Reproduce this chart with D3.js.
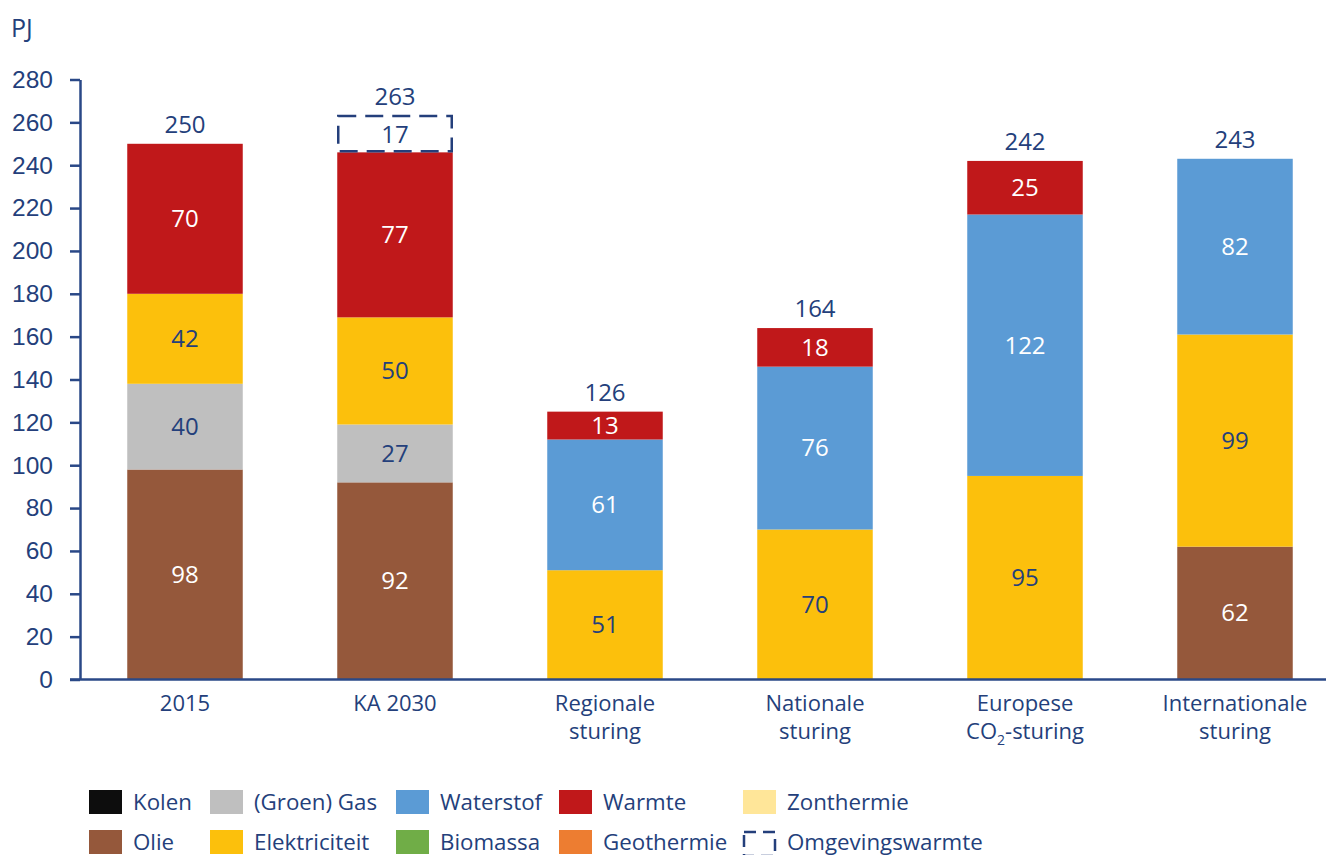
<!DOCTYPE html>
<html>
<head>
<meta charset="utf-8">
<script src="https://cdn.jsdelivr.net/npm/d3@7"></script>
<style>
  html, body { margin: 0; padding: 0; background: #fff; }
  svg { display: block; font-family: "Open Sans", "Noto Sans", sans-serif; }
</style>
</head>
<body>
<svg id="chart" width="1326" height="855"></svg>
<script>
// Final energy demand per scenario (PJ)
const categories = ["2015", "KA 2030", "Regionale sturing", "Nationale sturing", "Europese CO2-sturing", "Internationale sturing"];
const categoryLines = [["2015"], ["KA 2030"], ["Regionale", "sturing"], ["Nationale", "sturing"], ["Europese", "CO2-sturing"], ["Internationale", "sturing"]];

const kolen           = [0, 0, 0, 0, 0, 0];
const olie            = [98, 92, 0, 0, 0, 62];
const groenGas        = [40, 27, 0, 0, 0, 0];
const elektriciteit   = [42, 50, 51, 70, 95, 99];
const biomassa        = [0, 0, 0, 0, 0, 0];
const waterstof       = [0, 0, 61, 76, 122, 82];
const geothermie      = [0, 0, 0, 0, 0, 0];
const warmte          = [70, 77, 13, 18, 25, 0];
const zonthermie      = [0, 0, 0, 0, 0, 0];
const omgevingswarmte = [0, 17, 0, 0, 0, 0];
const totals          = [250, 263, 126, 164, 242, 243];

const yTicks = [0, 20, 40, 60, 80, 100, 120, 140, 160, 180, 200, 220, 240, 260, 280];

// stacking order, bottom to top
const series = [
  { name: "Kolen", values: kolen, color: "#0d0d0d", text: "#ffffff" },
  { name: "Olie", values: olie, color: "#95583b", text: "#ffffff" },
  { name: "(Groen) Gas", values: groenGas, color: "#bfbfbf", text: "#243f7b" },
  { name: "Elektriciteit", values: elektriciteit, color: "#fcc00c", text: "#243f7b" },
  { name: "Biomassa", values: biomassa, color: "#70ad47", text: "#ffffff" },
  { name: "Waterstof", values: waterstof, color: "#5b9bd5", text: "#ffffff" },
  { name: "Geothermie", values: geothermie, color: "#ed7d31", text: "#ffffff" },
  { name: "Warmte", values: warmte, color: "#c0181a", text: "#ffffff" },
  { name: "Zonthermie", values: zonthermie, color: "#ffe699", text: "#243f7b" },
  { name: "Omgevingswarmte", values: omgevingswarmte, color: "#ffffff", text: "#243f7b", dashed: true }
];

const navy = "#243f7b";
const axisColor = "#2a4887";
const svg = d3.select("#chart");

const x = d3.scaleBand().domain(categories).range([80, 1340]).paddingInner(0.45).paddingOuter(0.225);
const y = d3.scaleLinear().domain([0, 280]).range([679.5, 79.5]);

const rows = categories.map((c, i) => {
  const r = { category: c };
  series.forEach(s => r[s.name] = s.values[i]);
  return r;
});
const stack = d3.stack().keys(series.map(s => s.name))(rows);

// bars
stack.forEach((layer, k) => {
  const s = series[k];
  const g = svg.append("g");
  layer.forEach((d, i) => {
    const v = d[1] - d[0];
    if (v <= 0) return;
    const cx = x(categories[i]);
    if (s.dashed) {
      g.append("rect")
        .attr("x", cx + 1).attr("y", y(d[1]))
        .attr("width", x.bandwidth() - 2).attr("height", y(d[0]) - y(d[1]) - 1)
        .attr("fill", "#fff").attr("stroke", navy).attr("stroke-width", 2.5)
        .attr("stroke-dasharray", "18,9");
    } else {
      g.append("rect")
        .attr("x", cx).attr("y", y(d[1]))
        .attr("width", x.bandwidth()).attr("height", y(d[0]) - y(d[1]))
        .attr("fill", s.color);
    }
    g.append("text")
      .attr("x", cx + x.bandwidth() / 2)
      .attr("y", (y(d[0]) + y(d[1])) / 2)
      .attr("dy", "0.35em")
      .attr("text-anchor", "middle")
      .attr("font-size", 24)
      .attr("fill", s.text)
      .text(v);
  });
});

// totals above the bars
const tops = stack[stack.length - 1];
categories.forEach((c, i) => {
  svg.append("text")
    .attr("x", x(c) + x.bandwidth() / 2)
    .attr("y", y(tops[i][1]) - 19)
    .attr("dy", "0.35em")
    .attr("text-anchor", "middle")
    .attr("font-size", 24)
    .attr("fill", navy)
    .text(totals[i]);
});

// y axis
const yAxis = svg.append("g").attr("transform", "translate(80,0)")
  .call(d3.axisLeft(y).tickValues(yTicks).tickSize(10).tickPadding(17).tickSizeOuter(0));
yAxis.select(".domain").attr("stroke", axisColor).attr("stroke-width", 2.5);
yAxis.selectAll(".tick line").attr("stroke", axisColor).attr("stroke-width", 2.5);
yAxis.selectAll(".tick text").attr("fill", navy).attr("font-size", 24.5).attr("font-family", null);

// x axis
svg.append("line").attr("x1", 70).attr("x2", 1326).attr("y1", y(0)).attr("y2", y(0))
  .attr("stroke", axisColor).attr("stroke-width", 2.5);

categories.forEach((c, i) => {
  const t = svg.append("text")
    .attr("x", x(c) + x.bandwidth() / 2)
    .attr("text-anchor", "middle")
    .attr("font-size", 22)
    .attr("fill", navy);
  categoryLines[i].forEach((line, j) => {
    const ts = t.append("tspan").attr("x", x(c) + x.bandwidth() / 2).attr("y", 711 + j * 28);
    const m = line.match(/^CO2(.*)$/);
    if (m) {
      ts.text("CO");
      t.append("tspan").attr("font-size", 14).attr("dy", 6).text("2");
      t.append("tspan").attr("dy", -6).text(m[1]);
    } else {
      ts.text(line);
    }
  });
});

// unit label
svg.append("text").attr("x", 11).attr("y", 37).attr("font-size", 25).attr("fill", navy).text("PJ");

// legend
const legendCols = [89, 210, 396, 559, 743];
const legendRows = [790, 830];
const legendOrder = ["Kolen", "(Groen) Gas", "Waterstof", "Warmte", "Zonthermie",
                     "Olie", "Elektriciteit", "Biomassa", "Geothermie", "Omgevingswarmte"];
legendOrder.forEach((name, k) => {
  const s = series.find(d => d.name === name);
  const lx = legendCols[k % 5], ly = legendRows[Math.floor(k / 5)];
  const g = svg.append("g").attr("transform", `translate(${lx},${ly})`);
  if (s.dashed) {
    g.append("rect").attr("x", 1).attr("y", 2).attr("width", 31).attr("height", 24)
      .attr("fill", "#fff").attr("stroke", navy).attr("stroke-width", 2.5)
      .attr("stroke-dasharray", "12,7");
  } else {
    g.append("rect").attr("width", 33).attr("height", 24).attr("fill", s.color);
  }
  g.append("text").attr("x", 44).attr("y", 12).attr("dy", "0.35em")
    .attr("font-size", 22.3).attr("fill", navy).text(name);
});
</script>
</body>
</html>
